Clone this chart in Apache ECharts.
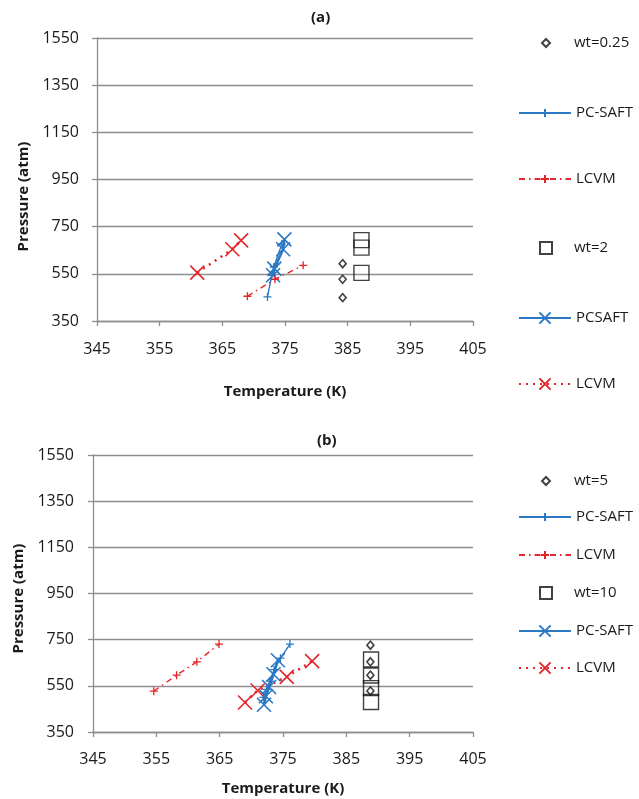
<!DOCTYPE html>
<html><head><meta charset="utf-8">
<script src="https://cdn.jsdelivr.net/npm/echarts@6/dist/echarts.min.js"></script>
<style>html,body{margin:0;padding:0;background:#fff}#c{width:639px;height:799px}</style>
</head><body><div id="c"></div>
<script>
// ---------- tick labels ----------
const xTicks = [345, 355, 365, 375, 385, 395, 405];
const yTicks = [350, 550, 750, 950, 1150, 1350, 1550];

// ---------- panel (a) ----------
const aWt025T = [384.2, 384.2, 384.2];
const aWt025P = [593, 527, 449];
const aPcPlusT = [372.2, 372.9, 373.2, 374.5];
const aPcPlusP = [452, 544, 579, 676];
const aLcPlusT = [369.0, 373.4, 377.9];
const aLcPlusP = [455, 527, 586];
const aWt2T = [387.2, 387.2, 387.2];
const aWt2P = [693, 661, 554];
const aPcXT = [373.1, 373.3, 374.7, 374.9];
const aPcXP = [544, 572, 654, 696];
const aLcXT = [361.0, 366.6, 368.0];
const aLcXP = [555, 654, 692];
const aLabels = ['wt=0.25', 'PC-SAFT', 'LCVM', 'wt=2', 'PCSAFT', 'LCVM'];

// ---------- panel (b) ----------
const bWt5T = [388.8, 388.8, 388.8, 388.8];
const bWt5P = [726, 654, 596, 528];
const bPcPlusT = [371.9, 372.4, 372.9, 373.6, 374.6, 376.1];
const bPcPlusP = [500, 535, 570, 620, 670, 731];
const bLcPlusT = [354.6, 358.2, 361.4, 364.9];
const bLcPlusP = [527, 596, 654, 731];
const bWt10T = [388.9, 388.9, 388.9, 388.9];
const bWt10P = [664, 595, 540, 480];
const bPcXT = [372.0, 372.3, 372.8, 373.5, 374.2];
const bPcXP = [468, 505, 545, 600, 661];
const bLcXT = [369.0, 371.0, 375.6, 379.6];
const bLcXP = [478, 530, 589, 657];
const bLabels = ['wt=5', 'PC-SAFT', 'LCVM', 'wt=10', 'PC-SAFT', 'LCVM'];

const titles = ['(a)', '(b)'];
const xName = 'Temperature (K)';
const yName = 'Pressure (atm)';

// ---------- styling ----------
const RED = '#e3262b';
const BLUE = '#2b78c5';
const GRAY = '#8e8e8e';
const PLUS = 'path://M0,5L10,5M5,0L5,10';
const CROSS = 'path://M0,0L10,10M10,0L0,10';
const FONT = 'Open Sans';

function pairs(t, p) { return t.map((v, i) => [v, p[i]]); }

function diamonds(name, idx, t, p) {
  return {name, type: 'scatter', xAxisIndex: idx, yAxisIndex: idx, z: 5,
    symbol: 'diamond', symbolSize: [7, 8], symbolKeepAspect: true,
    itemStyle: {color: 'transparent', borderColor: '#111', borderWidth: 1.6},
    data: pairs(t, p)};
}
function squares(name, idx, t, p) {
  return {name, type: 'scatter', xAxisIndex: idx, yAxisIndex: idx, z: 4,
    symbol: 'rect', symbolSize: 15, symbolKeepAspect: true,
    itemStyle: {color: 'transparent', borderColor: '#111', borderWidth: 1.4},
    data: pairs(t, p)};
}
function plusLine(name, idx, t, p, color, dash) {
  return {name, type: 'line', xAxisIndex: idx, yAxisIndex: idx, z: 3,
    symbol: PLUS, symbolSize: 8,
    itemStyle: {color, borderColor: color, borderWidth: 1.3},
    lineStyle: {color, width: 1.4, type: dash},
    data: pairs(t, p)};
}
function crossLine(name, idx, t, p, color, dash, w) {
  return {name, type: 'line', xAxisIndex: idx, yAxisIndex: idx, z: 2,
    symbol: CROSS, symbolSize: 14,
    itemStyle: {color, borderColor: color, borderWidth: 1.6},
    lineStyle: {color, width: w, type: dash},
    data: pairs(t, p)};
}

const series = [
  diamonds('a1', 0, aWt025T, aWt025P),
  plusLine('a2', 0, aPcPlusT, aPcPlusP, BLUE, 'solid'),
  plusLine('a3', 0, aLcPlusT, aLcPlusP, RED, [6, 4, 1.5, 4]),
  squares('a4', 0, aWt2T, aWt2P),
  crossLine('a5', 0, aPcXT, aPcXP, BLUE, 'solid', 2.6),
  crossLine('a6', 0, aLcXT, aLcXP, RED, [2, 5], 2.6),
  diamonds('b1', 1, bWt5T, bWt5P),
  plusLine('b2', 1, bPcPlusT, bPcPlusP, BLUE, 'solid'),
  plusLine('b3', 1, bLcPlusT, bLcPlusP, RED, [6, 4, 1.5, 4]),
  squares('b4', 1, bWt10T, bWt10P),
  crossLine('b5', 1, bPcXT, bPcXP, BLUE, 'solid', 2.6),
  crossLine('b6', 1, bLcXT, bLcXP, RED, [2, 5], 2.6)
];

const labelMap = {};
['a1','a2','a3','a4','a5','a6'].forEach((n, i) => labelMap[n] = aLabels[i]);
['b1','b2','b3','b4','b5','b6'].forEach((n, i) => labelMap[n] = bLabels[i]);

const aCy = [43, 113, 179, 248, 318, 384];
const bCy = [481, 517, 555, 593, 631, 668];
// icon box [width, height, left, text left padding]
const iconBox = {
  a1: [8, 8, 541, 19], a2: [52, 10, 518, 0], a3: [52, 10, 518, 0],
  a4: [12, 12, 539, 17], a5: [52, 14, 518, 0], a6: [52, 14, 518, 0],
  b1: [8, 8, 541, 19], b2: [52, 10, 518, 0], b3: [52, 10, 518, 0],
  b4: [12, 12, 539, 17], b5: [52, 14, 518, 0], b6: [52, 14, 518, 0]
};

const legends = [];
function addLegend(name, cy) {
  const [w, h, left, pad] = iconBox[name];
  legends.push({
    show: true, data: [name], orient: 'vertical', left: left, top: cy - 10,
    itemWidth: w, itemHeight: h, padding: 0, selectedMode: false, symbolKeepAspect: true,
    formatter: n => labelMap[n],
    textStyle: {fontFamily: FONT, fontSize: 15, color: '#1a1a1a', lineHeight: 20, padding: [0, 0, 0, pad]}
  });
}
['a1','a2','a3','a4','a5','a6'].forEach((n, i) => addLegend(n, aCy[i]));
['b1','b2','b3','b4','b5','b6'].forEach((n, i) => addLegend(n, bCy[i]));

const plain = v => String(v);

function xAxis(idx, gap, margin) {
  return {type: 'value', gridIndex: idx, min: 345, max: 405,
    name: xName, nameLocation: 'middle', nameGap: gap,
    nameTextStyle: {fontFamily: FONT, fontWeight: 'bold', fontSize: 15, color: '#1a1a1a'},
    axisLine: {show: true, lineStyle: {color: GRAY, width: 1.3}},
    axisTick: {show: true, length: 5, lineStyle: {color: GRAY, width: 1.3}, customValues: xTicks},
    axisLabel: {fontFamily: FONT, fontSize: 16, color: '#1a1a1a', margin, customValues: xTicks, formatter: plain},
    splitLine: {show: false}};
}
function yAxis(idx, gap, margin, pad) {
  return {type: 'value', gridIndex: idx, min: 350, max: 1550,
    name: yName, nameLocation: 'middle', nameGap: gap, nameRotate: 90,
    nameTextStyle: {fontFamily: FONT, fontWeight: 'bold', fontSize: 15, color: '#1a1a1a', padding: pad},
    axisLine: {show: true, lineStyle: {color: GRAY, width: 1.3}},
    axisTick: {show: true, length: 5, lineStyle: {color: GRAY, width: 1.3}, customValues: yTicks},
    axisLabel: {fontFamily: FONT, fontSize: 16, color: '#1a1a1a', margin, customValues: yTicks, formatter: plain},
    splitLine: {show: true, lineStyle: {color: GRAY, width: 1.3}}};
}

const option = {
  backgroundColor: '#fff',
  animation: false,
  title: [
    {text: titles[0], left: 306, top: 5, textStyle: {fontFamily: FONT, fontWeight: 'bold', fontSize: 15, color: '#1a1a1a'}},
    {text: titles[1], left: 312, top: 428, textStyle: {fontFamily: FONT, fontWeight: 'bold', fontSize: 15, color: '#1a1a1a'}}
  ],
  legend: legends,
  grid: [
    {left: 97, top: 38, width: 376, height: 283},
    {left: 93, top: 455, width: 380, height: 277}
  ],
  xAxis: [xAxis(0, 63, 20), xAxis(1, 49, 19)],
  yAxis: [yAxis(0, 63, 18, [0, 34, 0, 0]), yAxis(1, 60, 19, [0, 10, 0, 0])],
  series
};

const chart = echarts.init(document.getElementById('c'), null, {renderer: 'canvas'});
chart.setOption(option);
</script>
</body></html>
